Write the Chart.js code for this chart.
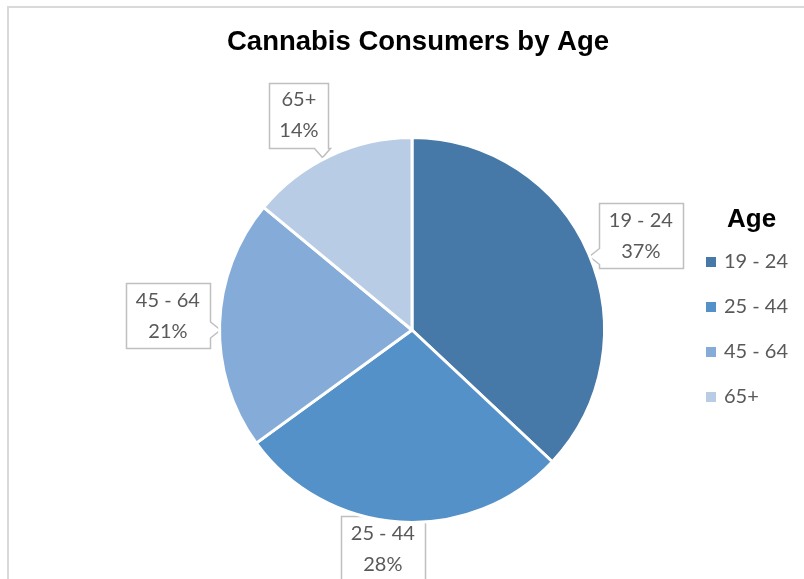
<!DOCTYPE html>
<html>
<head>
<meta charset="utf-8">
<script src="https://cdn.jsdelivr.net/npm/chart.js@4"></script>
<style>
  html, body { margin: 0; padding: 0; background: #fff; }
  #wrap { width: 804px; height: 579px; }
</style>
</head>
<body>
<div id="wrap"><canvas id="chart1" width="804" height="579"></canvas></div>
<script>
// data
const chartTitle = 'Cannabis Consumers by Age';
const legendTitle = 'Age';
const ageGroups = ['19 - 24', '25 - 44', '45 - 64', '65+'];
const shares = [37, 28, 21, 14];
const sliceColors = ['#4678a8', '#5491c9', '#85acd9', '#b8cce6'];

// callout placement: distance outside the pie, and a small turn (degrees)
const calloutGap = [55, 28, 52, 50];
const calloutTurn = [1, 4, 1.5, -2.6];

const labelFont = '20px Lato';
const labelColor = '#595959';

function calloutPath(ctx, x, y, w, h, side, tip) {
    const nw = 8;
    ctx.beginPath();
    ctx.moveTo(x, y);
    if (side === 'top') {
        ctx.lineTo(tip.x - nw, y); ctx.lineTo(tip.x, tip.y); ctx.lineTo(tip.x + nw, y);
    }
    ctx.lineTo(x + w, y);
    if (side === 'right') {
        ctx.lineTo(x + w, tip.y - nw); ctx.lineTo(tip.x, tip.y); ctx.lineTo(x + w, tip.y + nw);
    }
    ctx.lineTo(x + w, y + h);
    if (side === 'bottom') {
        ctx.lineTo(tip.x + nw, y + h); ctx.lineTo(tip.x, tip.y); ctx.lineTo(tip.x - nw, y + h);
    }
    ctx.lineTo(x, y + h);
    if (side === 'left') {
        ctx.lineTo(x, tip.y + nw); ctx.lineTo(tip.x, tip.y); ctx.lineTo(x, tip.y - nw);
    }
    ctx.closePath();
}

const decorations = {
    id: 'decorations',
    beforeDraw(chart) {
        const ctx = chart.ctx;
        ctx.save();
        ctx.fillStyle = '#fff';
        ctx.fillRect(0, 0, chart.width, chart.height);
        ctx.strokeStyle = '#d9d9d9';
        ctx.lineWidth = 2;
        ctx.beginPath();
        ctx.moveTo(8, chart.height);
        ctx.lineTo(8, 7);
        ctx.lineTo(chart.width, 7);
        ctx.stroke();

        ctx.fillStyle = '#000';
        ctx.font = 'bold 27.5px "Liberation Sans", Arial';
        ctx.textAlign = 'center';
        ctx.textBaseline = 'middle';
        ctx.fillText(chartTitle, 418, 42);
        ctx.restore();
    },
    beforeDatasetsDraw(chart) {
        const ctx = chart.ctx;
        const meta = chart.getDatasetMeta(0);
        const total = shares.reduce((a, b) => a + b, 0);
        ctx.save();
        ctx.font = labelFont;
        ctx.textAlign = 'center';
        ctx.textBaseline = 'middle';

        meta.data.forEach((arc, i) => {
            const p = arc.getProps(['x', 'y', 'startAngle', 'endAngle', 'outerRadius'], true);
            const mid = (p.startAngle + p.endAngle) / 2 + calloutTurn[i] * Math.PI / 180;
            const d = p.outerRadius + calloutGap[i];
            const cx = p.x + Math.cos(mid) * d;
            const cy = p.y + Math.sin(mid) * d;
            const pct = Math.round(shares[i] / total * 100) + '%';
            const tw = Math.max(ctx.measureText(ageGroups[i]).width, ctx.measureText(pct).width);
            const w = Math.round(tw + 20), h = 65;
            const x = Math.round(cx - w / 2) + 0.5, y = Math.round(cy - h / 2) + 0.5;

            const dx = p.x - cx, dy = p.y - cy;
            let side, tip;
            if (Math.abs(dx) > Math.abs(dy) * 1.2) {
                side = dx > 0 ? 'right' : 'left';
                const ty = Math.min(Math.max(p.y, y + 12), y + h - 12);
                tip = { x: side === 'right' ? x + w + 10 : x - 10, y: ty };
            } else {
                side = dy > 0 ? 'bottom' : 'top';
                const tx = Math.min(Math.max(p.x, x + 12), x + w - 12);
                tip = { x: tx + (tx > cx ? 6 : -6), y: side === 'bottom' ? y + h + 9 : y - 9 };
            }
            calloutPath(ctx, x, y, w, h, side, tip);
            ctx.fillStyle = '#fff';
            ctx.fill();
            ctx.strokeStyle = '#bfbfbf';
            ctx.lineWidth = 1.5;
            ctx.stroke();

            ctx.fillStyle = labelColor;
            ctx.fillText(ageGroups[i], cx, cy - 15.5);
            ctx.fillText(pct, cx, cy + 15.5);
        });
        ctx.restore();
    },
    afterDraw(chart) {
        const ctx = chart.ctx;
        ctx.save();
        ctx.textAlign = 'left';
        ctx.textBaseline = 'middle';
        ctx.fillStyle = '#000';
        ctx.font = 'bold 26px "Liberation Sans", Arial';
        ctx.fillText(legendTitle, 727, 220);
        ctx.font = labelFont;
        ageGroups.forEach((g, i) => {
            const ly = 262 + i * 45;
            ctx.fillStyle = sliceColors[i];
            ctx.fillRect(706, ly - 5, 10, 10);
            ctx.fillStyle = labelColor;
            ctx.fillText(g, 724, ly);
        });
        ctx.restore();
    }
};

const ctx1 = document.getElementById('chart1').getContext('2d');
new Chart(ctx1, {
    type: 'pie',
    data: {
        labels: ageGroups,
        datasets: [{
            data: shares,
            backgroundColor: sliceColors,
            borderColor: '#ffffff',
            borderWidth: 3
        }]
    },
    options: {
        responsive: false,
        animation: false,
        layout: { padding: { left: 218, right: 198, top: 136, bottom: 55 } },
        plugins: {
            legend: { display: false },
            title: { display: false },
            tooltip: { enabled: false }
        }
    },
    plugins: [decorations]
});
</script>
</body>
</html>
